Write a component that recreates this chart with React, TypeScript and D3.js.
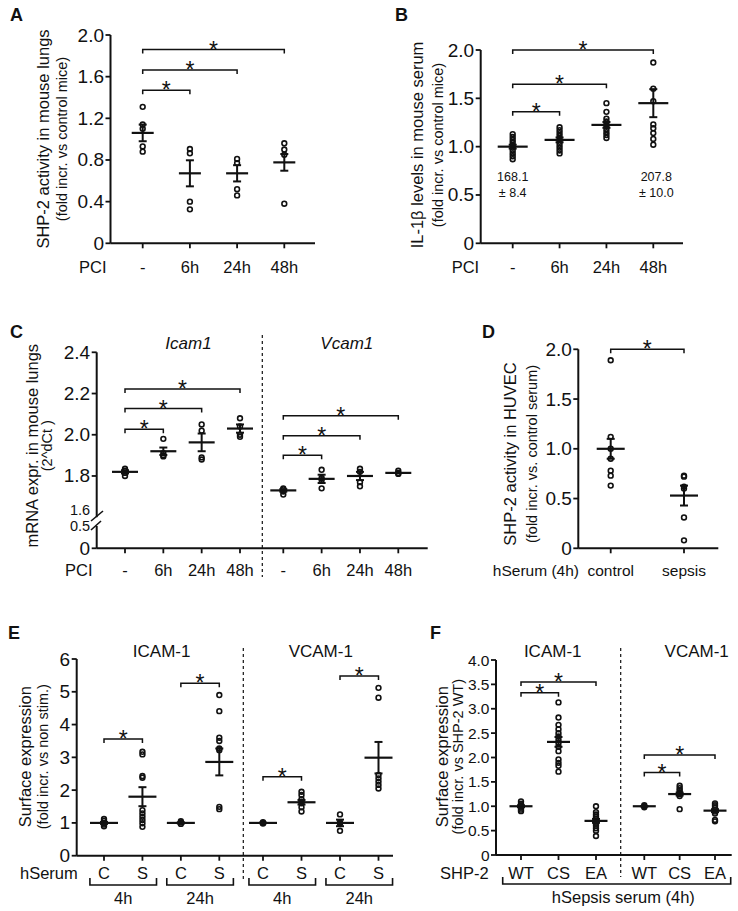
import React from 'react';
import * as d3 from 'd3';

const FONT = "'Liberation Sans', Arial, Helvetica, sans-serif";
const INK = '#111';

// ---------------- Panel A: SHP-2 activity in mouse lungs
const aCats = ['-', '6h', '24h', '48h'];
const aPts = [
  [1.31, 1.14, 1.10, 0.93, 0.88],
  [0.905, 0.864, 0.40, 0.326],
  [0.81, 0.77, 0.52, 0.46],
  [0.96, 0.90, 0.85, 0.38],
];
const aMean = [1.06, 0.672, 0.672, 0.777];
const aSem = [0.08, 0.125, 0.078, 0.08];
const aTicks = [0, 0.4, 0.8, 1.2, 1.6, 2.0];
const aSig = [[0, 1, 1.47], [0, 2, 1.665], [0, 3, 1.86]];

// ---------------- Panel B: IL-1β levels in mouse serum
const bCats = ['-', '6h', '24h', '48h'];
const bPts = [
  [1.13, 1.10, 1.07, 1.04, 1.01, 0.99, 0.96, 0.93, 0.90, 0.87],
  [1.20, 1.17, 1.14, 1.11, 1.08, 1.05, 1.02, 0.99, 0.96, 0.93],
  [1.45, 1.36, 1.29, 1.26, 1.23, 1.21, 1.18, 1.15, 1.12, 1.09],
  [1.87, 1.60, 1.47, 1.23, 1.19, 1.14, 1.08, 1.02],
];
const bMean = [1.0, 1.07, 1.225, 1.45];
const bSem = [0.02, 0.025, 0.03, 0.145];
const bTicks = [0, 0.5, 1.0, 1.5, 2.0];
const bSig = [[0, 1, 1.36], [0, 2, 1.645], [0, 3, 2.0]];
const bNotes = [[0, '168.1', '± 8.4'], [3, '207.8', '± 10.0']];

// ---------------- Panel C: mRNA expression (Icam1 / Vcam1)
const cCats = ['-', '6h', '24h', '48h'];
const cGenes = ['Icam1', 'Vcam1'];
const cPts = [
  [
    [1.835, 1.825, 1.815, 1.80],
    [1.98, 1.91, 1.90, 1.895],
    [2.05, 2.02, 1.89, 1.88],
    [2.08, 2.04, 2.00, 1.99],
  ],
  [
    [1.74, 1.735, 1.725, 1.71],
    [1.83, 1.79, 1.78, 1.74],
    [1.835, 1.82, 1.77, 1.75],
    [1.825, 1.815, 1.81],
  ],
];
const cMean = [[1.82, 1.92, 1.963, 2.03], [1.73, 1.786, 1.80, 1.815]];
const cSem = [[0.008, 0.018, 0.043, 0.02], [0.006, 0.02, 0.02, 0.004]];
const cTicksUpper = [1.6, 1.8, 2.0, 2.2, 2.4];
const cTicksLower = [0, 0.5];
const cSig = [
  [[0, 1, 2.027], [0, 2, 2.127], [0, 3, 2.222]],
  [[0, 1, 1.90], [0, 2, 1.995], [0, 3, 2.092]],
];

// ---------------- Panel D: SHP-2 activity in HUVEC
const dCats = ['control', 'sepsis'];
const dPts = [
  [1.89, 1.12, 1.0, 0.90, 0.78, 0.73, 0.63],
  [0.73, 0.72, 0.62, 0.60, 0.31, 0.08],
];
const dMean = [1.0, 0.53];
const dSem = [0.1, 0.1];
const dTicks = [0, 0.5, 1.0, 1.5, 2.0];

// ---------------- Panel E: Surface expression, hSerum
const eGroups = ['ICAM-1', 'VCAM-1'];
const eCats = ['C', 'S', 'C ', 'S '];
const eTimes = ['4h', '24h'];
const ePts = [
  [
    [1.12, 1.06, 1.0, 0.95, 0.90],
    [3.17, 3.09, 2.43, 2.38, 1.39, 1.29, 1.19, 1.09, 0.99, 0.88],
    [1.05, 1.01, 0.97],
    [4.90, 4.41, 3.60, 3.50, 3.27, 3.22, 1.49, 1.42],
  ],
  [
    [1.02, 1.0, 0.98],
    [1.95, 1.85, 1.72, 1.65, 1.60, 1.48, 1.35],
    [1.26, 1.02, 0.98, 0.76],
    [5.12, 4.82, 2.46, 2.36, 2.26, 2.16, 2.05],
  ],
];
const eMean = [[1.0, 1.80, 1.0, 2.86], [1.0, 1.63, 1.0, 2.99]];
const eSem = [[0.03, 0.29, 0.02, 0.41], [0.01, 0.07, 0.1, 0.48]];
const eTicks = [0, 1, 2, 3, 4, 5, 6];
const eSig = [
  [[0, 1, 3.56], [2, 3, 5.26]],
  [[0, 1, 2.41], [2, 3, 5.48]],
];

// ---------------- Panel F: Surface expression, SHP-2 mutants
const fGroups = ['ICAM-1', 'VCAM-1'];
const fCats = ['WT', 'CS', 'EA'];
const fPts = [
  [
    [1.10, 1.05, 1.02, 1.0, 0.97, 0.93, 0.90],
    [3.13, 2.82, 2.67, 2.58, 2.50, 2.43, 2.36, 2.30, 2.22, 2.13, 1.96, 1.89, 1.83, 1.71],
    [1.0, 0.88, 0.83, 0.79, 0.75, 0.71, 0.68, 0.64, 0.60, 0.55, 0.50, 0.39],
  ],
  [
    [1.02, 1.0, 0.98],
    [1.42, 1.37, 1.33, 1.29, 1.25, 1.21, 0.94],
    [1.06, 1.02, 0.98, 0.93, 0.89, 0.85, 0.72, 0.69],
  ],
];
const fMean = [[1.0, 2.32, 0.70], [1.0, 1.25, 0.91]];
const fSem = [[0.02, 0.1, 0.04], [0.005, 0.03, 0.03]];
const fTicks = [0, 0.5, 1.0, 1.5, 2.0, 2.5, 3.0, 3.5, 4.0];
const fSig = [
  [[0, 1, 3.33], [0, 2, 3.55]],
  [[0, 1, 1.69], [0, 2, 2.05]],
];

// ---------------- helpers
type TProps = {
  x: number; y: number; s?: number; a?: 'start' | 'middle' | 'end';
  w?: any; it?: boolean; rot?: boolean; children: any;
};
function T({ x, y, s = 16, a = 'middle', w, it, rot, children }: TProps) {
  return (
    <text
      transform={`translate(${x},${y})${rot ? ' rotate(-90)' : ''}`}
      fontSize={s}
      textAnchor={a}
      fontWeight={w}
      fontStyle={it ? 'italic' : undefined}
      dominantBaseline="central"
      fontFamily={FONT}
      fill={INK}
    >
      {children}
    </text>
  );
}

const fmt1 = (v: number) => (v === 0 ? '0' : v.toFixed(1));
const TICK = 19;

function YAxis({ x, y, ticks, fmt, s = TICK }: any) {
  return (
    <g>
      <line x1={x} x2={x} y1={y(ticks[0])} y2={y(ticks[ticks.length - 1])} stroke={INK} strokeWidth={2} />
      {ticks.map((t: number) => (
        <g key={t}>
          <line x1={x - 5} x2={x} y1={y(t)} y2={y(t)} stroke={INK} strokeWidth={1.8} />
          <T x={x - 6.5} y={y(t)} s={s} a="end">{fmt(t)}</T>
        </g>
      ))}
    </g>
  );
}

function XBase({ x0, x1, y, xs }: any) {
  return (
    <g>
      <line x1={x0} x2={x1} y1={y} y2={y} stroke={INK} strokeWidth={2} />
      {xs.map((xx: number, i: number) => (
        <line key={i} x1={xx} x2={xx} y1={y} y2={y + 5} stroke={INK} strokeWidth={1.8} />
      ))}
    </g>
  );
}

function Group({ cx, y, pts, mean, sem, half = 13, cap = 4 }: any) {
  return (
    <g>
      {pts.map((v: number, i: number) => (
        <circle key={i} cx={cx} cy={y(v)} r={2.4} fill="none" stroke={INK} strokeWidth={1.6} />
      ))}
      <line x1={cx - half} x2={cx + half} y1={y(mean)} y2={y(mean)} stroke={INK} strokeWidth={2.2} />
      {sem > 0.004 && (
        <g stroke={INK} strokeWidth={2}>
          <line x1={cx} x2={cx} y1={y(mean - sem)} y2={y(mean + sem)} />
          <line x1={cx - cap} x2={cx + cap} y1={y(mean - sem)} y2={y(mean - sem)} />
          <line x1={cx - cap} x2={cx + cap} y1={y(mean + sem)} y2={y(mean + sem)} />
        </g>
      )}
    </g>
  );
}

function Bracket({ x1, x2, y, s = 23 }: any) {
  return (
    <g>
      <path d={`M${x1},${y + 4}V${y}H${x2}V${y + 4}`} fill="none" stroke={INK} strokeWidth={1.5} />
      <text x={(x1 + x2) / 2} y={y + 8} fontSize={s} textAnchor="middle" fontFamily={FONT} fill={INK}>*</text>
    </g>
  );
}

function YTitle({ x1, x2, cy, l1, l2, s1 = 16.5, s2 = 14.5 }: any) {
  return (
    <g>
      <T x={x1} y={cy} s={s1} rot>{l1}</T>
      <T x={x2} y={cy} s={s2} rot>{l2}</T>
    </g>
  );
}

function Dashed({ x, y0, y1 }: any) {
  return <line x1={x} x2={x} y1={y0} y2={y1} stroke={INK} strokeWidth={1.2} strokeDasharray="3,3" />;
}

// ---------------- panels
function PanelA() {
  const y = d3.scaleLinear().domain([0, 2]).range([243.3, 35]);
  const x = d3.scalePoint<string>().domain(aCats).range([142.7, 284.3]);
  const xs = aCats.map((c) => x(c) as number);
  return (
    <g>
      <T x={10} y={15} s={18} a="start" w="bold">A</T>
      <YTitle x1={43} x2={62} cy={139} l1="SHP-2 activity in mouse lungs" l2="(fold incr. vs control mice)" />
      <YAxis x={110.5} y={y} ticks={aTicks} fmt={fmt1} />
      <XBase x0={110.5} x1={315} y={243.3} xs={xs} />
      {aCats.map((c, i) => (
        <Group key={c} cx={xs[i]} y={y} pts={aPts[i]} mean={aMean[i]} sem={aSem[i]} half={11} />
      ))}
      {aSig.map(([i, j, v], k) => <Bracket key={k} x1={xs[i]} x2={xs[j]} y={y(v)} />)}
      <T x={79} y={267} s={16.5} a="start">PCI</T>
      {aCats.map((c, i) => <T key={c} x={xs[i]} y={267} s={16.5}>{c}</T>)}
    </g>
  );
}

function PanelB() {
  const y = d3.scaleLinear().domain([0, 2]).range([243.3, 50]);
  const x = d3.scalePoint<string>().domain(bCats).range([512.7, 653.3]);
  const xs = bCats.map((c) => x(c) as number);
  return (
    <g>
      <T x={395} y={15} s={18} a="start" w="bold">B</T>
      <YTitle x1={416.7} x2={437.7} cy={145} l1="IL-1β levels in mouse serum" l2="(fold incr. vs control mice)" />
      <YAxis x={480.7} y={y} ticks={bTicks} fmt={fmt1} />
      <XBase x0={480.7} x1={683} y={243.3} xs={xs} />
      {bCats.map((c, i) => (
        <Group key={c} cx={xs[i]} y={y} pts={bPts[i]} mean={bMean[i]} sem={bSem[i]} half={15} />
      ))}
      {bSig.map(([i, j, v], k) => <Bracket key={k} x1={xs[i]} x2={xs[j]} y={y(v)} />)}
      {bNotes.map(([i, a, b]: any, k) => (
        <g key={k}>
          <T x={xs[i] + (i === 3 ? 3 : 0)} y={176.7} s={12.5}>{a}</T>
          <T x={xs[i] + (i === 3 ? 3 : 0)} y={193.3} s={12.5}>{b}</T>
        </g>
      ))}
      <T x={451.7} y={267} s={16.5} a="start">PCI</T>
      {bCats.map((c, i) => <T key={c} x={xs[i]} y={267} s={16.5}>{c}</T>)}
    </g>
  );
}

function PanelC() {
  const yU = d3.scaleLinear().domain([1.6, 2.4]).range([517.2, 352.3]);
  const yL = d3.scaleLinear().domain([0, 0.5]).range([548.3, 526]);
  const ranges = [[125, 240], [283.3, 398.3]];
  const xsG = ranges.map((r) => {
    const sc = d3.scalePoint<string>().domain(cCats).range(r as [number, number]);
    return cCats.map((c) => sc(c) as number);
  });
  const ax = 96.7;
  return (
    <g>
      <T x={10} y={332} s={18} a="start" w="bold">C</T>
      <YTitle x1={31.7} x2={46.7} cy={445.7} l1="mRNA expr. in mouse lungs" l2="(2^dCt )" />
      <line x1={ax} x2={ax} y1={yU(1.6)} y2={yU(2.4)} stroke={INK} strokeWidth={2} />
      <line x1={ax} x2={ax} y1={yL(0)} y2={yL(0.5)} stroke={INK} strokeWidth={2} />
      {cTicksUpper.map((t) => (
        <g key={t}>
          {t !== 1.6 && <line x1={ax - 5} x2={ax} y1={yU(t)} y2={yU(t)} stroke={INK} strokeWidth={1.8} />}
          <T x={ax - 6.5} y={yU(t) - (t === 1.6 ? 7.7 : 0)} s={t === 1.6 ? 14.5 : TICK} a="end">{fmt1(t)}</T>
        </g>
      ))}
      {cTicksLower.map((t) => (
        <g key={t}>
          {t !== 0.5 && <line x1={ax - 5} x2={ax} y1={yL(t)} y2={yL(t)} stroke={INK} strokeWidth={1.8} />}
          <T x={ax - 6.5} y={yL(t)} s={t === 0.5 ? 14.5 : TICK} a="end">{fmt1(t)}</T>
        </g>
      ))}
      <line x1={91} y1={521} x2={103} y2={511} stroke={INK} strokeWidth={1.6} />
      <line x1={91} y1={530} x2={101} y2={521} stroke={INK} strokeWidth={1.6} />
      <XBase x0={ax} x1={427.7} y={548.3} xs={[...xsG[0], ...xsG[1]]} />
      <Dashed x={262.3} y0={335} y1={577} />
      {cGenes.map((g, gi) => (
        <g key={g}>
          <T x={(xsG[gi][1] + xsG[gi][2]) / 2 + 6} y={343} s={17} it>{g}</T>
          {cCats.map((c, i) => (
            <Group key={c} cx={xsG[gi][i]} y={yU} pts={cPts[gi][i]} mean={cMean[gi][i]} sem={cSem[gi][i]} half={13} />
          ))}
          {cSig[gi].map(([i, j, v], k) => <Bracket key={k} x1={xsG[gi][i]} x2={xsG[gi][j]} y={yU(v)} />)}
          {cCats.map((c, i) => <T key={c} x={xsG[gi][i]} y={570} s={16.5}>{c}</T>)}
        </g>
      ))}
      <T x={65} y={570} s={16.5} a="start">PCI</T>
    </g>
  );
}

function PanelD() {
  const y = d3.scaleLinear().domain([0, 2]).range([548.3, 349.3]);
  const x = d3.scalePoint<string>().domain(dCats).range([610.7, 684]);
  const xs = dCats.map((c) => x(c) as number);
  return (
    <g>
      <T x={482} y={332} s={18} a="start" w="bold">D</T>
      <YTitle x1={510} x2={531.7} cy={454} l1="SHP-2 activity in HUVEC" l2="(fold incr. vs. control serum)" />
      <YAxis x={578.3} y={y} ticks={dTicks} fmt={fmt1} />
      <XBase x0={578.3} x1={718.3} y={548.3} xs={xs} />
      {dCats.map((c, i) => (
        <Group key={c} cx={xs[i]} y={y} pts={dPts[i]} mean={dMean[i]} sem={dSem[i]} half={14} />
      ))}
      <Bracket x1={xs[0]} x2={xs[1]} y={y(2.0)} />
      <T x={579} y={570} s={15.5} a="end">hSerum (4h)</T>
      {dCats.map((c, i) => <T key={c} x={xs[i]} y={570} s={15.5}>{c}</T>)}
    </g>
  );
}

function SubBracket({ x1, x2, y }: any) {
  return <path d={`M${x1},${y - 7}V${y}H${x2}V${y - 7}`} fill="none" stroke={INK} strokeWidth={1.6} />;
}

function PanelE() {
  const y = d3.scaleLinear().domain([0, 6]).range([855.7, 659]);
  const ranges = [[104, 219.3], [263, 378.5]];
  const xsG = ranges.map((r) => {
    const sc = d3.scalePoint<string>().domain(eCats).range(r as [number, number]);
    return eCats.map((c) => sc(c) as number);
  });
  return (
    <g>
      <T x={8} y={633} s={18} a="start" w="bold">E</T>
      <YTitle x1={25} x2={43.3} cy={756.7} l1="Surface expression" l2="(fold incr. vs non stim.)" />
      <YAxis x={76.7} y={y} ticks={eTicks} fmt={(v: number) => String(v)} />
      <XBase x0={76.7} x1={393} y={855.7} xs={[...xsG[0], ...xsG[1]]} />
      <Dashed x={243.3} y0={648} y1={880} />
      {eGroups.map((g, gi) => (
        <g key={g}>
          <T x={(xsG[gi][1] + xsG[gi][2]) / 2} y={651.7} s={17}>{g}</T>
          {eCats.map((c, i) => (
            <Group key={c} cx={xsG[gi][i]} y={y} pts={ePts[gi][i]} mean={eMean[gi][i]} sem={eSem[gi][i]} half={14} />
          ))}
          {eSig[gi].map(([i, j, v], k) => <Bracket key={k} x1={xsG[gi][i]} x2={xsG[gi][j]} y={y(v)} />)}
          {eCats.map((c, i) => <T key={c} x={xsG[gi][i]} y={873.3} s={16.5}>{c.trim()}</T>)}
          {eTimes.map((t, ti) => {
            const cx = (xsG[gi][ti * 2] + xsG[gi][ti * 2 + 1]) / 2;
            return (
              <g key={t}>
                <SubBracket x1={cx - 33.3} x2={cx + 33.3} y={885} />
                <T x={cx} y={898.3} s={16.5}>{t}</T>
              </g>
            );
          })}
        </g>
      ))}
      <T x={20} y={873.3} s={16.5} a="start">hSerum</T>
    </g>
  );
}

function PanelF() {
  const y = d3.scaleLinear().domain([0, 4]).range([855, 660]);
  const ranges = [[521, 596], [644.3, 715]];
  const xsG = ranges.map((r) => {
    const sc = d3.scalePoint<string>().domain(fCats).range(r as [number, number]);
    return fCats.map((c) => sc(c) as number);
  });
  return (
    <g>
      <T x={430} y={633} s={18} a="start" w="bold">F</T>
      <YTitle x1={441.7} x2={458.3} cy={756.7} l1="Surface expression" l2="(fold incr. vs SHP-2 WT)" />
      <YAxis x={496} y={y} ticks={fTicks} fmt={fmt1} s={15.5} />
      <XBase x0={496} x1={731.7} y={855} xs={[...xsG[0], ...xsG[1]]} />
      <Dashed x={620.7} y0={648} y1={877} />
      {fGroups.map((g, gi) => (
        <g key={g}>
          <T x={gi === 0 ? 552.7 : 696.7} y={651.7} s={17}>{g}</T>
          {fCats.map((c, i) => (
            <Group key={c} cx={xsG[gi][i]} y={y} pts={fPts[gi][i]} mean={fMean[gi][i]} sem={fSem[gi][i]} half={11.5} />
          ))}
          {fSig[gi].map(([i, j, v], k) => <Bracket key={k} x1={xsG[gi][i]} x2={xsG[gi][j]} y={y(v)} />)}
          {fCats.map((c, i) => <T key={c} x={xsG[gi][i]} y={872.7} s={16.5}>{c}</T>)}
        </g>
      ))}
      <SubBracket x1={502.7} x2={730.7} y={884} />
      <T x={440} y={872.7} s={16.5} a="start">SHP-2</T>
      <T x={623.3} y={896.5} s={16.5}>hSepsis serum (4h)</T>
    </g>
  );
}

export default function App() {
  return (
    <svg
      width={738}
      height={911}
      viewBox="0 0 738 911"
      style={{ position: 'absolute', left: 0, top: 0, background: '#fff' }}
    >
      <rect width={738} height={911} fill="#fff" />
      <PanelA />
      <PanelB />
      <PanelC />
      <PanelD />
      <PanelE />
      <PanelF />
    </svg>
  );
}
